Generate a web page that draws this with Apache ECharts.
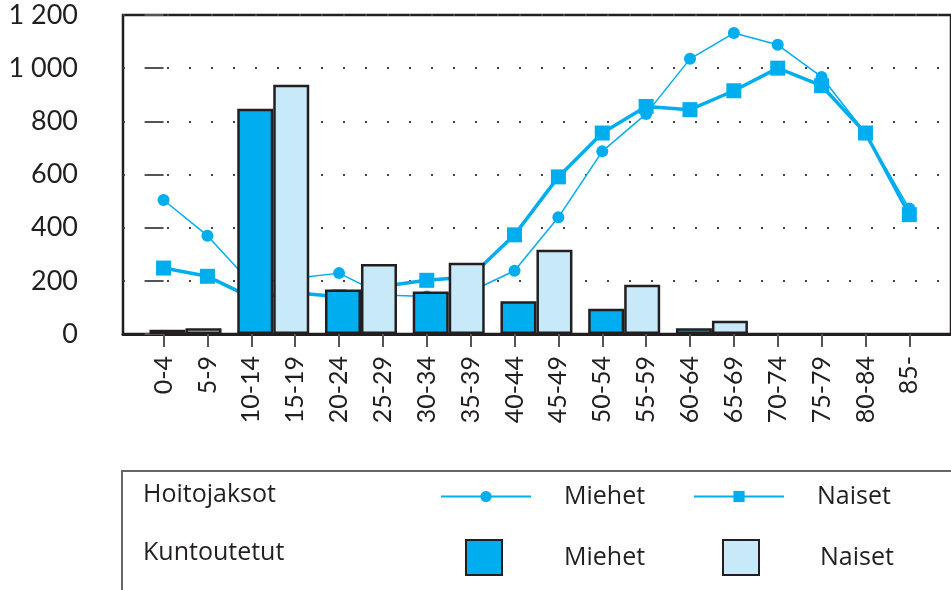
<!DOCTYPE html>
<html>
<head>
<meta charset="utf-8">
<script src="https://cdn.jsdelivr.net/npm/echarts@6/dist/echarts.min.js"></script>
<style>
html,body{margin:0;padding:0;background:#fff;}
#chart{width:951px;height:590px;}
</style>
</head>
<body>
<div id="chart"></div>
<script>
// Age groups (x axis)
var categories = ['0-4','5-9','10-14','15-19','20-24','25-29','30-34','35-39','40-44','45-49','50-54','55-59','60-64','65-69','70-74','75-79','80-84','85-'];
// Hoitojaksot (lines)
var hoitoMiehet = [504, 370, 190, 210, 229, 147, 141, 160, 238, 439, 687, 828, 1035, 1132, 1088, 967, 756, 472];
var hoitoNaiset = [248, 217, 137, 155, 140, 180, 202, 215, 373, 591, 756, 856, 844, 915, 1000, 934, 756, 449];
// Kuntoutetut (bars) by 10-year group: 0-9, 10-19, ..., 60-69
var kuntoMiehet = [16, 847, 167, 160, 123, 95, 22];
var kuntoNaiset = [22, 938, 263, 268, 317, 185, 50];
// Y tick labels
var yTickLabels = ['0', '200', '400', '600', '800', '1 000', '1 200'];

var FONT = 'Lato';
var LFONT = 'Open Sans';
var DARK = '#231F20';
var BLUE = '#00AEEF';
var LIGHT = '#C8E9F8';

var xIdx = categories.map(function(_, i){ return i; });
function lineData(arr){ return arr.map(function(v, i){ return [i, v]; }); }
// each 10-year group sits between its two 5-year categories
function barData(arr){ return arr.map(function(v, k){ return [2*k + 0.5, v]; }); }

function legendItem(name, left, top, iw, ih, pad, icon){
  var d = {name: name};
  if (icon) d.icon = icon;
  return {
    data: [d], left: left, top: top, padding: 0,
    itemWidth: iw, itemHeight: ih, selectedMode: false,
    formatter: function(n){ return n.split(': ')[1]; },
    textStyle: {fontFamily: LFONT, fontSize: 25, color: DARK, padding: [0,0,0,pad]}
  };
}

var chart = echarts.init(document.getElementById('chart'), null, {renderer: 'canvas'});
chart.setOption({
  animation: false,
  backgroundColor: '#fff',
  grid: {
    left: 123, top: 15, right: -3, bottom: 256,
    show: true, borderColor: DARK, borderWidth: 2.5, backgroundColor: 'transparent'
  },
  xAxis: {
    type: 'value',
    min: -0.925, max: 17.95,
    axisLine: {show: true, onZero: false, lineStyle: {color: DARK, width: 3}},
    axisTick: {show: true, length: 13, customValues: xIdx, lineStyle: {color: '#555', width: 2}},
    axisLabel: {
      show: true, customValues: xIdx, rotate: 90, margin: 22,
      formatter: function(v){ return categories[Math.round(v)]; },
      fontFamily: FONT, fontSize: 25, color: DARK
    },
    splitLine: {show: false}
  },
  yAxis: {
    type: 'value', min: 0, max: 1200, interval: 200,
    axisLine: {show: false},
    axisTick: {show: true, length: 19, lineStyle: {color: '#555', width: 2}},
    axisLabel: {
      margin: 45, fontFamily: FONT, fontSize: 27, color: DARK,
      formatter: function(v){ return yTickLabels[Math.round(v/200)]; }
    },
    splitLine: {show: true, lineStyle: {color: '#444', width: 2, type: [2, 20]}}
  },
  legend: [
    legendItem('Hoitojaksot: Miehet', 440, 484, 90, 14, 28),
    legendItem('Hoitojaksot: Naiset', 693, 484, 90, 14, 28),
    legendItem('Kuntoutetut: Miehet', 465, 539, 36, 35, 57, 'rect'),
    legendItem('Kuntoutetut: Naiset', 722, 539, 36, 35, 56, 'rect')
  ],
  graphic: [
    {type: 'rect', z: 0, silent: true,
     shape: {x: 122, y: 471, width: 840, height: 130}, style: {fill: 'none', stroke: '#666', lineWidth: 2}},
    {type: 'text', x: 143, y: 495, silent: true,
     style: {text: 'Hoitojaksot', font: '25px "' + LFONT + '"', fill: DARK, verticalAlign: 'middle'}},
    {type: 'text', x: 143, y: 553, silent: true,
     style: {text: 'Kuntoutetut', font: '25px "' + LFONT + '"', fill: DARK, verticalAlign: 'middle'}}
  ],
  series: [
    {
      name: 'Hoitojaksot: Miehet', type: 'line', z: 2,
      data: lineData(hoitoMiehet),
      symbol: 'circle', symbolSize: 12,
      lineStyle: {color: BLUE, width: 1.5},
      itemStyle: {color: BLUE}
    },
    {
      name: 'Hoitojaksot: Naiset', type: 'line', z: 2,
      data: lineData(hoitoNaiset),
      symbol: 'rect', symbolSize: 15,
      lineStyle: {color: BLUE, width: 3.5},
      itemStyle: {color: BLUE}
    },
    {
      name: 'Kuntoutetut: Miehet', type: 'bar', z: 3,
      data: barData(kuntoMiehet),
      barWidth: 36, barGap: '0%',
      itemStyle: {color: BLUE, borderColor: DARK, borderWidth: 2.5}
    },
    {
      name: 'Kuntoutetut: Naiset', type: 'bar', z: 3,
      data: barData(kuntoNaiset),
      barWidth: 36, barGap: '0%',
      itemStyle: {color: LIGHT, borderColor: DARK, borderWidth: 2.5}
    }
  ]
});
</script>
</body>
</html>
